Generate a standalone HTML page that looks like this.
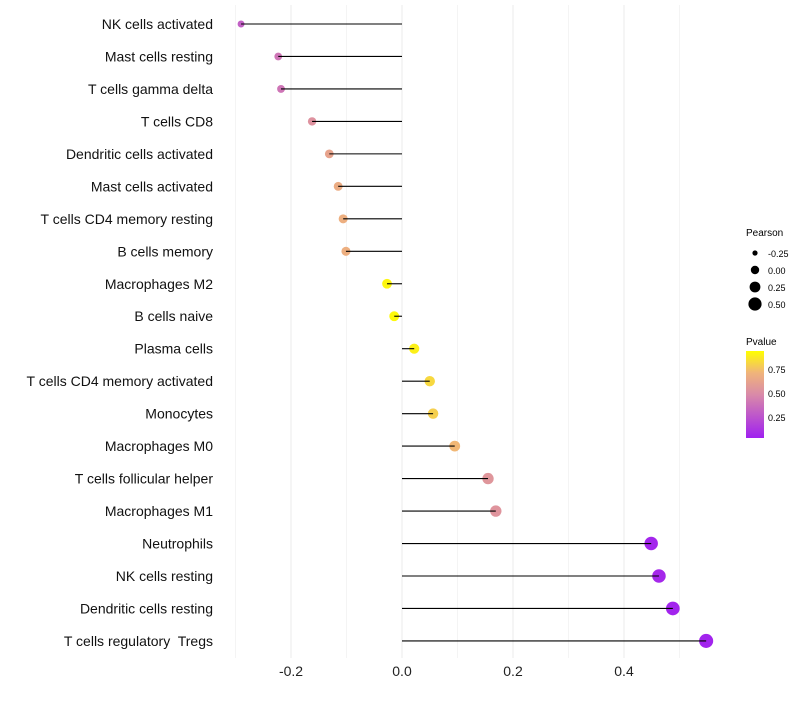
<!DOCTYPE html>
<html><head><meta charset="utf-8"><style>
body{margin:0;background:#fff;font-family:"Liberation Sans",sans-serif}
svg text{font-family:"Liberation Sans",sans-serif;white-space:pre}
</style></head><body>
<svg id="chart" width="800" height="700">
<defs><linearGradient id="pg" x1="0" y1="1" x2="0" y2="0">
<stop offset="0" stop-color="#a020f0"/><stop offset="0.5" stop-color="#d98aa8"/><stop offset="0.75" stop-color="#f0b47a"/><stop offset="1" stop-color="#ffff00"/>
</linearGradient></defs>
<g id="grid"></g><g id="marks"></g><g id="labels"></g>
<g>
<text x="746" y="236" font-size="10">Pearson</text>
<circle cx="755" cy="253" r="2.6" fill="#000"/><text x="768" y="257" font-size="9">-0.25</text>
<circle cx="755" cy="270" r="4.2" fill="#000"/><text x="768" y="274" font-size="9">0.00</text>
<circle cx="755" cy="287" r="5.4" fill="#000"/><text x="768" y="291" font-size="9">0.25</text>
<circle cx="755" cy="304" r="6.6" fill="#000"/><text x="768" y="308" font-size="9">0.50</text>
</g>
<g>
<text x="746" y="345" font-size="10">Pvalue</text>
<rect x="746" y="351" width="18" height="87" fill="url(#pg)"/>
<text x="768" y="373" font-size="9">0.75</text>
<text x="768" y="397" font-size="9">0.50</text>
<text x="768" y="421" font-size="9">0.25</text>
</g>
</svg>
<script>
const categories=["NK cells activated","Mast cells resting","T cells gamma delta","T cells CD8","Dendritic cells activated","Mast cells activated","T cells CD4 memory resting","B cells memory","Macrophages M2","B cells naive","Plasma cells","T cells CD4 memory activated","Monocytes","Macrophages M0","T cells follicular helper","Macrophages M1","Neutrophils","NK cells resting","Dendritic cells resting","T cells regulatory  Tregs"];
const pearson=[-0.29,-0.223,-0.218,-0.162,-0.131,-0.115,-0.106,-0.101,-0.027,-0.014,0.022,0.05,0.056,0.095,0.155,0.169,0.449,0.463,0.488,0.548];
const pvalue=[0.3,0.4,0.4,0.55,0.65,0.7,0.72,0.72,0.97,0.98,0.95,0.87,0.84,0.76,0.57,0.56,0.03,0.04,0.02,0.02];
const ticks=[-0.2,0,0.2,0.4];
const tickLabels=["-0.2","0.0","0.2","0.4"];
const NS="http://www.w3.org/2000/svg";
const x=v=>402+v*555;
const y=i=>24+i*32.47;
const r=v=>Math.sqrt(Math.max(4,25+45*v));
function hex(c){return [parseInt(c.slice(1,3),16),parseInt(c.slice(3,5),16),parseInt(c.slice(5,7),16)];}
const stopPos=[0,0.5,0.75,1];
const stops=[hex("#a020f0"),hex("#d98aa8"),hex("#f0b47a"),hex("#ffff00")];
function col(p){p=Math.max(0,Math.min(1,p));let i=0;while(i<stopPos.length-2&&p>stopPos[i+1])i++;const f=(p-stopPos[i])/(stopPos[i+1]-stopPos[i]);const a=stops[i],b=stops[i+1];return "rgb("+a.map((v,k)=>Math.round(v+(b[k]-v)*f)).join(",")+")";}
function mk(tag,attrs,parent){const e=document.createElementNS(NS,tag);for(const k in attrs)e.setAttribute(k,attrs[k]);parent.appendChild(e);return e;}
const grid=document.getElementById('grid'),marks=document.getElementById('marks'),labels=document.getElementById('labels');
[-0.3,-0.1,0.1,0.3,0.5].forEach(v=>{const l=mk('line',{x1:x(v),x2:x(v),y1:5,y2:658,stroke:'#f4f4f4','stroke-width':1},grid);

});
ticks.forEach((v,i)=>{const l=mk('line',{x1:x(v),x2:x(v),y1:5,y2:658,stroke:'#ebebeb','stroke-width':1},grid);


const t=mk('text',{x:x(v),y:676,'font-size':14,'text-anchor':'middle',fill:'#222'},labels);t.textContent=tickLabels[i];

});
categories.forEach((c,i)=>{
const cy=y(i);
const pt=mk('circle',{cx:x(pearson[i]),cy:cy,r:r(pearson[i]),fill:col(pvalue[i])},marks);


const ln=mk('line',{x1:x(0),x2:x(pearson[i]),y1:cy,y2:cy,stroke:'#000','stroke-width':1.1},marks);


const t=mk('text',{x:213,y:cy+5,'font-size':14,'text-anchor':'end',fill:'#111'},labels);t.textContent=c;


});
</script>
</body></html>
